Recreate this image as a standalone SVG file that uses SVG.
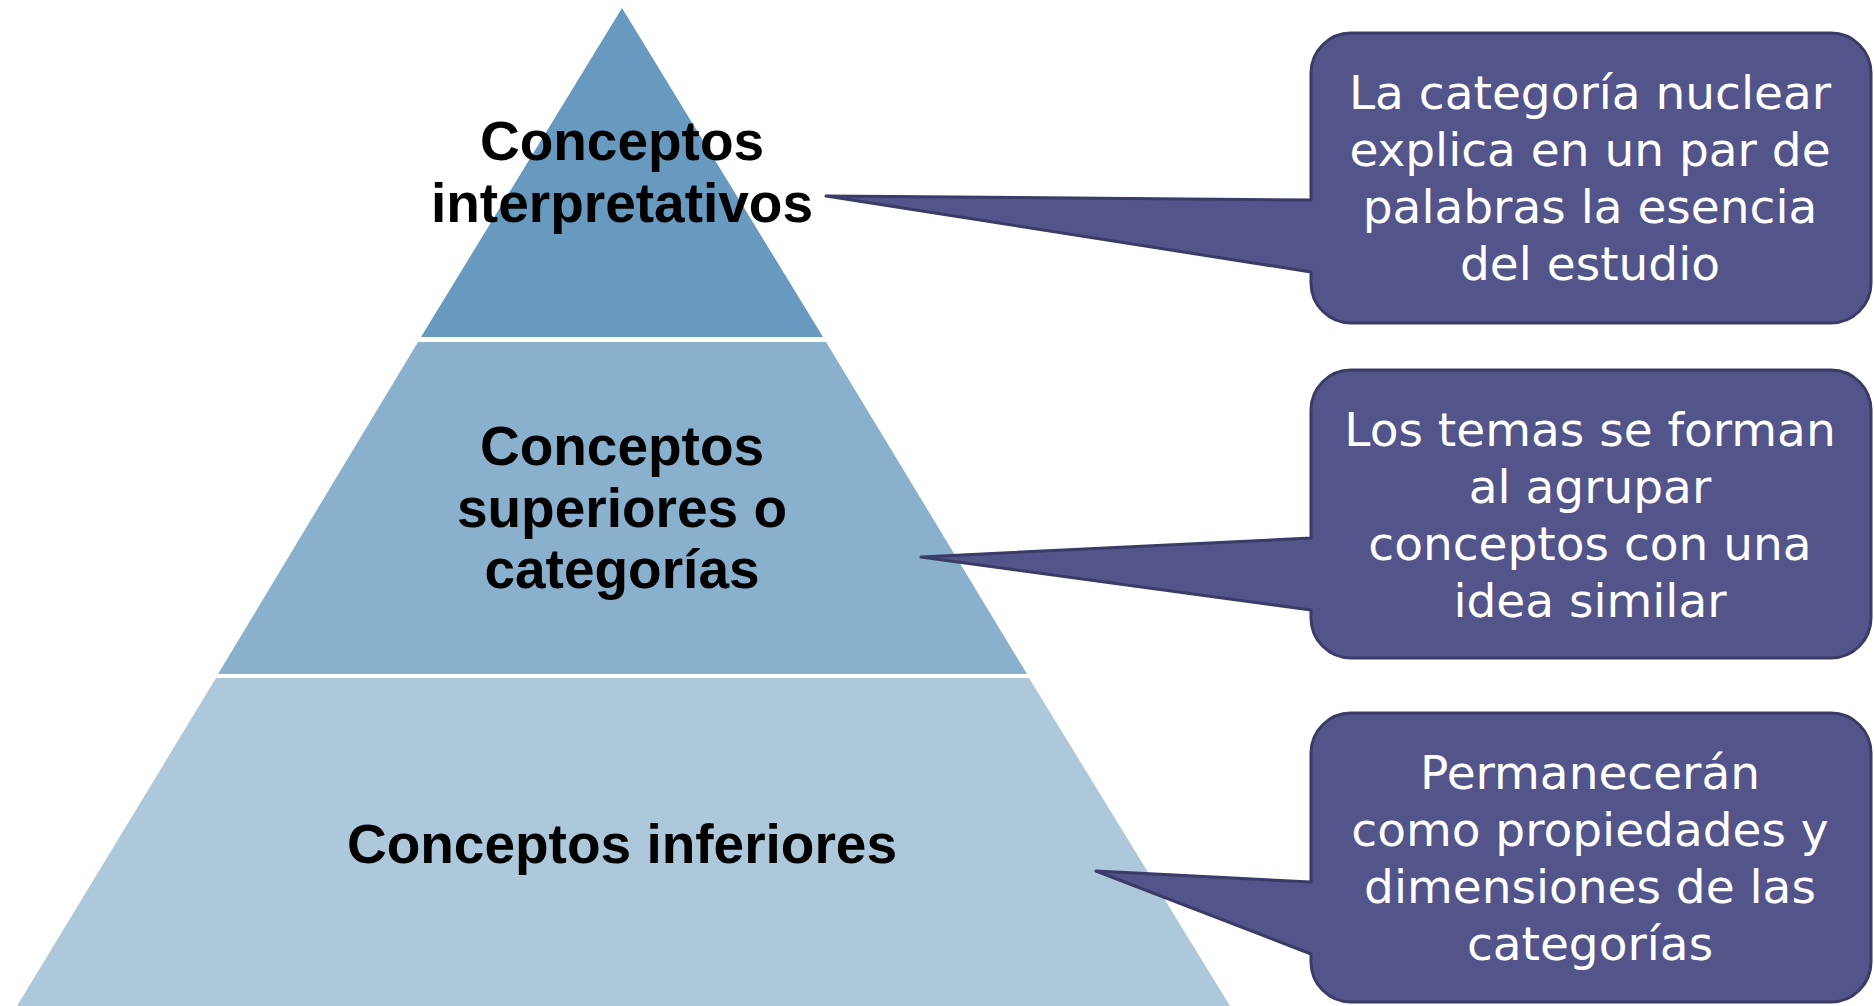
<svg xmlns="http://www.w3.org/2000/svg" width="1874" height="1006" viewBox="0 0 1874 1006">
  <style>
    .tier-label { font-family: "Liberation Sans", Arial, sans-serif; font-weight: bold; font-size: 55px; fill: #000000; text-anchor: middle; }
    .callout-shape { fill: #535489; stroke: #3a3b66; stroke-width: 3; stroke-linejoin: round; }
    .callout-text { font-family: "DejaVu Sans", "Liberation Sans", sans-serif; font-size: 47px; fill: #ffffff; text-anchor: middle; }
  </style>
  <rect x="0" y="0" width="1874" height="1006" fill="#ffffff"/>

  <g id="tier-top">
    <polygon points="622,8 823,337 421,337" fill="#6899be"/>
    <text class="tier-label" x="622" y="160">Conceptos</text>
    <text class="tier-label" x="622" y="222">interpretativos</text>
  </g>

  <g id="tier-middle">
    <polygon points="418,342 826,342 1027,674 218,674" fill="#89b0cd"/>
    <text class="tier-label" x="622" y="465">Conceptos</text>
    <text class="tier-label" x="622" y="527">superiores o</text>
    <text class="tier-label" x="622" y="588">categorías</text>
  </g>

  <g id="tier-bottom">
    <polygon points="216,678 1029,678 1230,1006 17,1006" fill="#adc8db"/>
    <text class="tier-label" x="622" y="863">Conceptos inferiores</text>
  </g>

  <g id="callout-1">
    <path class="callout-shape" d="M 1351,33 H 1831 A 40 40 0 0 1 1871,73 V 283 A 40 40 0 0 1 1831,323 H 1351 A 40 40 0 0 1 1311,283 V 272 L 826,196 L 1311,200 V 73 A 40 40 0 0 1 1351,33 Z"/>
    <text class="callout-text" x="1590" y="109">La categoría nuclear</text>
    <text class="callout-text" x="1590" y="166">explica en un par de</text>
    <text class="callout-text" x="1590" y="223">palabras la esencia</text>
    <text class="callout-text" x="1590" y="280">del estudio</text>
  </g>

  <g id="callout-2">
    <path class="callout-shape" d="M 1351,370 H 1831 A 40 40 0 0 1 1871,410 V 618 A 40 40 0 0 1 1831,658 H 1351 A 40 40 0 0 1 1311,618 V 610 L 921,557 L 1311,538 V 410 A 40 40 0 0 1 1351,370 Z"/>
    <text class="callout-text" x="1590" y="446">Los temas se forman</text>
    <text class="callout-text" x="1590" y="503">al agrupar</text>
    <text class="callout-text" x="1590" y="560">conceptos con una</text>
    <text class="callout-text" x="1590" y="617">idea similar</text>
  </g>

  <g id="callout-3">
    <path class="callout-shape" d="M 1351,713 H 1831 A 40 40 0 0 1 1871,753 V 962 A 40 40 0 0 1 1831,1002 H 1351 A 40 40 0 0 1 1311,962 V 954 L 1096,871 L 1311,882 V 753 A 40 40 0 0 1 1351,713 Z"/>
    <text class="callout-text" x="1590" y="789">Permanecerán</text>
    <text class="callout-text" x="1590" y="846">como propiedades y</text>
    <text class="callout-text" x="1590" y="903">dimensiones de las</text>
    <text class="callout-text" x="1590" y="960">categorías</text>
  </g>
</svg>
